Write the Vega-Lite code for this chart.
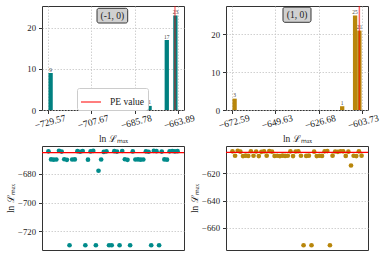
{
  "$schema": "https://vega.github.io/schema/vega-lite/v6.json",
  "background": "white",
  "padding": {"left": 5, "top": 4, "right": 2, "bottom": 2},
  "config": {
    "font": "Liberation Serif",
    "view": {"stroke": "#333", "strokeWidth": 1},
    "axis": {
      "domain": false,
      "labelFont": "Liberation Serif",
      "labelFontSize": 8.7,
      "labelColor": "#222",
      "tickColor": "#333",
      "tickSize": 3.5,
      "labelPadding": 3,
      "gridColor": "#c4c4c4",
      "gridDash": [1.5, 1.5],
      "gridWidth": 0.8,
      "titleFont": "Liberation Serif",
      "titleFontSize": 9.5,
      "titleFontWeight": "normal",
      "titleColor": "#222"
    }
  },
  "datasets": {
    "hl": [
      {"start": -729.57, "end": -727.381, "mid": -728.476, "count": 9},
      {"start": -679.215, "end": -677.025, "mid": -678.12, "count": 1},
      {"start": -670.458, "end": -668.268, "mid": -669.363, "count": 17},
      {"start": -666.079, "end": -663.89, "mid": -664.985, "count": 23}
    ],
    "hr": [
      {"start": -672.59, "end": -670.295, "mid": -671.442, "count": 3},
      {"start": -615.207, "end": -612.912, "mid": -614.06, "count": 1},
      {"start": -608.321, "end": -606.025, "mid": -607.173, "count": 25},
      {"start": -606.025, "end": -603.73, "mid": -604.878, "count": 21}
    ],
    "sl": [
      {"i": 0, "v": -664.3}, {"i": 1, "v": -669.9}, {"i": 2, "v": -670.1}, {"i": 3, "v": -670.0},
      {"i": 4, "v": -663.89}, {"i": 5, "v": -664.5}, {"i": 6, "v": -669.8}, {"i": 7, "v": -670.2},
      {"i": 8, "v": -729.57}, {"i": 9, "v": -670.0}, {"i": 10, "v": -669.9}, {"i": 11, "v": -664.2},
      {"i": 12, "v": -664.6}, {"i": 13, "v": -664.1}, {"i": 14, "v": -729.57}, {"i": 15, "v": -670.1},
      {"i": 16, "v": -664.4}, {"i": 17, "v": -664.0}, {"i": 18, "v": -729.57}, {"i": 19, "v": -677.8},
      {"i": 20, "v": -670.0}, {"i": 21, "v": -664.7}, {"i": 22, "v": -664.3}, {"i": 23, "v": -729.57},
      {"i": 24, "v": -729.57}, {"i": 25, "v": -664.2}, {"i": 26, "v": -664.5}, {"i": 27, "v": -729.57},
      {"i": 28, "v": -664.1}, {"i": 29, "v": -669.8}, {"i": 30, "v": -670.2}, {"i": 31, "v": -729.57},
      {"i": 32, "v": -664.4}, {"i": 33, "v": -670.0}, {"i": 34, "v": -669.9}, {"i": 35, "v": -670.1},
      {"i": 36, "v": -670.0}, {"i": 37, "v": -664.3}, {"i": 38, "v": -664.6}, {"i": 39, "v": -729.57},
      {"i": 40, "v": -664.0}, {"i": 41, "v": -664.2}, {"i": 42, "v": -729.57}, {"i": 43, "v": -664.5},
      {"i": 44, "v": -669.9}, {"i": 45, "v": -670.1}, {"i": 46, "v": -664.3}, {"i": 47, "v": -664.1},
      {"i": 48, "v": -664.4}, {"i": 49, "v": -664.2}
    ],
    "sr": [
      {"i": 0, "v": -604.2}, {"i": 1, "v": -607.4}, {"i": 2, "v": -603.73}, {"i": 3, "v": -604.4},
      {"i": 4, "v": -607.6}, {"i": 5, "v": -607.3}, {"i": 6, "v": -607.5}, {"i": 7, "v": -604.1},
      {"i": 8, "v": -607.4}, {"i": 9, "v": -604.3}, {"i": 10, "v": -607.6}, {"i": 11, "v": -604.5},
      {"i": 12, "v": -604.2}, {"i": 13, "v": -607.3}, {"i": 14, "v": -604.0}, {"i": 15, "v": -604.4},
      {"i": 16, "v": -607.5}, {"i": 17, "v": -607.4}, {"i": 18, "v": -607.6}, {"i": 19, "v": -607.3},
      {"i": 20, "v": -607.5}, {"i": 21, "v": -607.4}, {"i": 22, "v": -604.2}, {"i": 23, "v": -607.6},
      {"i": 24, "v": -604.3}, {"i": 25, "v": -604.1}, {"i": 26, "v": -607.4}, {"i": 27, "v": -672.59},
      {"i": 28, "v": -607.5}, {"i": 29, "v": -607.3}, {"i": 30, "v": -672.59}, {"i": 31, "v": -604.4},
      {"i": 32, "v": -607.6}, {"i": 33, "v": -607.4}, {"i": 34, "v": -607.5}, {"i": 35, "v": -604.2},
      {"i": 36, "v": -604.0}, {"i": 37, "v": -672.59}, {"i": 38, "v": -607.3}, {"i": 39, "v": -604.3},
      {"i": 40, "v": -604.5}, {"i": 41, "v": -604.1}, {"i": 42, "v": -604.2}, {"i": 43, "v": -607.5},
      {"i": 44, "v": -604.4}, {"i": 45, "v": -614.5}, {"i": 46, "v": -607.4}, {"i": 47, "v": -607.6},
      {"i": 48, "v": -604.2}, {"i": 49, "v": -607.3}
    ],
    "pel": [{"pe": -665.2, "label": "PE value"}],
    "per": [{"pe": -604.9, "label": "PE value"}],
    "one": [{"k": 1}]
  },
  "columns": 2,
  "spacing": {"row": 36, "column": 42},
  "bounds": "flush",
  "concat": [
    {
      "width": 142,
      "height": 104,
      "layer": [
        {
          "data": {"name": "hl"},
          "mark": {"type": "bar", "color": "#008080"},
          "encoding": {
            "x": {"field": "start", "type": "quantitative",
              "scale": {"domain": [-732.854, -660.606], "nice": false, "zero": false},
              "axis": {"values": [-729.57, -707.67, -685.78, -663.89], "format": ".2f", "labelFontSize": 9.5, "labelAngle": -15, "labelAlign": "center", "labelBaseline": "top", "title": "ln ℒₘₐₓ", "titlePadding": 4}},
            "x2": {"field": "end"},
            "y": {"field": "count", "type": "quantitative",
              "scale": {"domain": [0, 25.3], "nice": false},
              "axis": {"values": [0, 5, 10, 15, 20, 25], "title": null}},
            "y2": {"datum": 0}
          }
        },
        {
          "data": {"name": "hl"},
          "mark": {"type": "text", "fontSize": 5.5, "color": "#444", "baseline": "bottom", "dy": -0.5},
          "encoding": {
            "x": {"field": "mid", "type": "quantitative"},
            "y": {"field": "count", "type": "quantitative"},
            "text": {"field": "count", "type": "quantitative"}
          }
        },
        {
          "data": {"name": "pel"},
          "mark": {"type": "rule", "strokeWidth": 1.5, "opacity": 0.5},
          "encoding": {
            "x": {"field": "pe", "type": "quantitative"},
            "color": {"field": "label", "type": "nominal",
              "scale": {"range": ["red"]},
              "legend": {"title": null, "orient": "none", "legendX": 35, "legendY": 82,
                "symbolType": "stroke", "symbolSize": 400, "symbolStrokeWidth": 2, "symbolOpacity": 0.5,
                "labelFont": "Liberation Serif", "labelFontSize": 9.5, "labelColor": "#222", "labelOffset": 8,
                "padding": 3, "strokeColor": "#ccc", "fillColor": "white", "cornerRadius": 2}}
          }
        },
        {
          "data": {"name": "one"},
          "mark": {"type": "rect", "fill": "#d0d0d0", "stroke": "#222", "strokeWidth": 0.9, "cornerRadius": 2},
          "encoding": {
            "x": {"datum": -704.87, "type": "quantitative"},
            "x2": {"datum": -689.25},
            "y": {"datum": 24.74, "type": "quantitative"},
            "y2": {"datum": 21.16}
          }
        },
        {
          "data": {"name": "one"},
          "mark": {"type": "text", "fontSize": 9.5, "color": "#222", "baseline": "middle", "align": "center"},
          "encoding": {
            "x": {"datum": -697.06, "type": "quantitative"},
            "y": {"datum": 22.95, "type": "quantitative"},
            "text": {"value": "(-1, 0)"}
          }
        }
      ]
    },
    {
      "width": 142,
      "height": 104,
      "layer": [
        {
          "data": {"name": "hr"},
          "mark": {"type": "bar", "color": "#b8860b"},
          "encoding": {
            "x": {"field": "start", "type": "quantitative",
              "scale": {"domain": [-676.033, -600.287], "nice": false, "zero": false},
              "axis": {"values": [-672.59, -649.63, -626.68, -603.73], "format": ".2f", "labelFontSize": 9.5, "labelAngle": -15, "labelAlign": "center", "labelBaseline": "top", "title": "ln ℒₘₐₓ", "titlePadding": 4}},
            "x2": {"field": "end"},
            "y": {"field": "count", "type": "quantitative",
              "scale": {"domain": [0, 27.5], "nice": false},
              "axis": {"values": [0, 10, 20], "title": null}},
            "y2": {"datum": 0}
          }
        },
        {
          "data": {"name": "hr"},
          "mark": {"type": "text", "fontSize": 5.5, "color": "#444", "baseline": "bottom", "dy": -0.5},
          "encoding": {
            "x": {"field": "mid", "type": "quantitative"},
            "y": {"field": "count", "type": "quantitative"},
            "text": {"field": "count", "type": "quantitative"}
          }
        },
        {
          "data": {"name": "per"},
          "mark": {"type": "rule", "strokeWidth": 1.5, "opacity": 0.6, "color": "red"},
          "encoding": {
            "x": {"field": "pe", "type": "quantitative"}
          }
        },
        {
          "data": {"name": "one"},
          "mark": {"type": "rect", "fill": "#d0d0d0", "stroke": "#222", "strokeWidth": 0.9, "cornerRadius": 2},
          "encoding": {
            "x": {"datum": -645.63, "type": "quantitative"},
            "x2": {"datum": -630.69},
            "y": {"datum": 27.2, "type": "quantitative"},
            "y2": {"datum": 23.19}
          }
        },
        {
          "data": {"name": "one"},
          "mark": {"type": "text", "fontSize": 9.5, "color": "#222", "baseline": "middle", "align": "center"},
          "encoding": {
            "x": {"datum": -638.16, "type": "quantitative"},
            "y": {"datum": 25.2, "type": "quantitative"},
            "text": {"value": "(1, 0)"}
          }
        }
      ]
    },
    {
      "width": 142,
      "height": 104,
      "layer": [
        {
          "data": {"name": "sl"},
          "mark": {"type": "circle", "size": 22, "color": "#008b8b", "opacity": 1},
          "encoding": {
            "x": {"field": "i", "type": "quantitative", "scale": {"domain": [-2.45, 51.45], "nice": false, "zero": false}, "axis": null},
            "y": {"field": "v", "type": "quantitative",
              "scale": {"domain": [-732.854, -660.606], "nice": false, "zero": false},
              "axis": {"values": [-680, -700, -720], "format": "d", "title": "ln ℒₘₐₓ", "titlePadding": 2}}
          }
        },
        {
          "data": {"name": "pel"},
          "mark": {"type": "rule", "strokeWidth": 1.2, "color": "red"},
          "encoding": {"y": {"field": "pe", "type": "quantitative"}}
        }
      ]
    },
    {
      "width": 142,
      "height": 104,
      "layer": [
        {
          "data": {"name": "sr"},
          "mark": {"type": "circle", "size": 22, "color": "#b8860b", "opacity": 1},
          "encoding": {
            "x": {"field": "i", "type": "quantitative", "scale": {"domain": [-2.45, 51.45], "nice": false, "zero": false}, "axis": null},
            "y": {"field": "v", "type": "quantitative",
              "scale": {"domain": [-676.033, -600.287], "nice": false, "zero": false},
              "axis": {"values": [-620, -640, -660], "format": "d", "title": "ln ℒₘₐₓ", "titlePadding": 2}}
          }
        },
        {
          "data": {"name": "per"},
          "mark": {"type": "rule", "strokeWidth": 1.2, "color": "red"},
          "encoding": {"y": {"field": "pe", "type": "quantitative"}}
        }
      ]
    }
  ]
}
